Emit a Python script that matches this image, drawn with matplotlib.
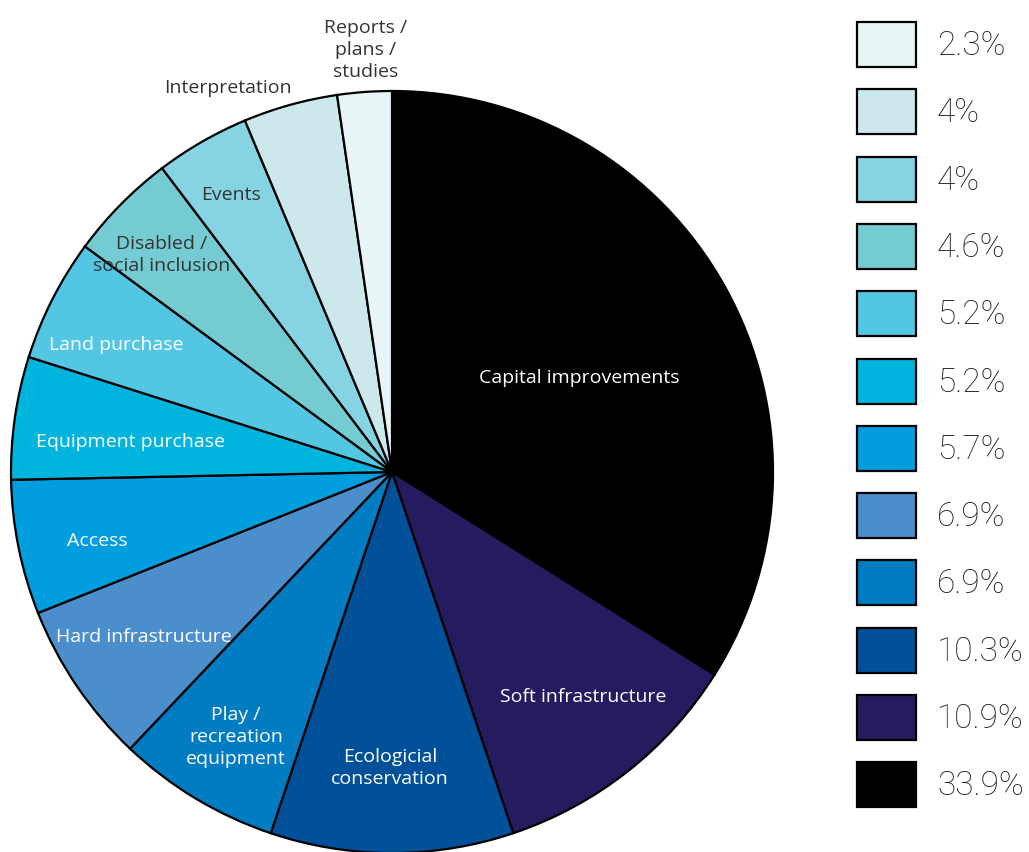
import matplotlib
matplotlib.use("Agg")
import matplotlib.pyplot as plt
from matplotlib.patches import Rectangle

# funding share by category, clockwise from 12 o'clock
categories = ["Capital improvements", "Soft infrastructure", "Ecologicial\nconservation",
              "Play /\nrecreation\nequipment", "Hard infrastructure", "Access",
              "Equipment purchase", "Land purchase", "Disabled /\nsocial inclusion",
              "Events", "Interpretation", "Reports /\nplans /\nstudies"]
shares = [33.9, 10.9, 10.3, 6.9, 6.9, 5.7, 5.2, 5.2, 4.6, 4.0, 4.0, 2.3]
colors = ["#000000", "#241c5e", "#005199", "#007cc2", "#4a8ecb", "#009ddf",
          "#00b5dd", "#52c6e2", "#74cbd2", "#86d3e3", "#cce8eb", "#e8f5f6"]

# label centres in pixels (x, y from top) and text colour
label_pos = [(579, 378), (583, 697), (390, 768), (236, 737), (144, 637), (97, 541),
             (130, 442), (116, 345), (162, 255), (231, 195), (228, 88), (366, 50)]
label_col = ["white"] * 8 + ["#333333"] * 4

W, H = 1029, 852
cx, cy, R = 392, 472, 381

plt.rcParams['font.family'] = ['Open Sans', 'DejaVu Sans']
fig = plt.figure(figsize=(W / 100, H / 100), dpi=100)

ax = fig.add_axes([(cx - R) / W, (H - cy - R) / H, 2 * R / W, 2 * R / H])
ax.pie(shares, colors=colors, startangle=90, counterclock=False,
       wedgeprops=dict(edgecolor="black", linewidth=1.6))
ax.set_xlim(-1, 1)
ax.set_ylim(-1, 1)
ax.set_aspect("auto")

for name, (px, py), col in zip(categories, label_pos, label_col):
    ax.text((px - cx) / R, (cy - py) / R, name, ha="center", va="center",
            color=col, fontsize=14, linespacing=1.3, clip_on=False)

# legend column on the right, smallest share at the top
lg = fig.add_axes([0, 0, 1, 1])
lg.set_xlim(0, W)
lg.set_ylim(H, 0)
lg.axis("off")
lg.patch.set_alpha(0)
for i, (v, c) in enumerate(zip(shares[::-1], colors[::-1])):
    top = 22 + i * 67.3
    lg.add_patch(Rectangle((857, top), 59, 45, facecolor=c, edgecolor="black", linewidth=1.6))
    lg.text(937, top + 24, f"{v:g}%", ha="left", va="center", fontsize=24,
            color="#1a1a1a", family=["Roboto", "DejaVu Sans"], fontweight="light")

fig.savefig("out.png", dpi=100)
